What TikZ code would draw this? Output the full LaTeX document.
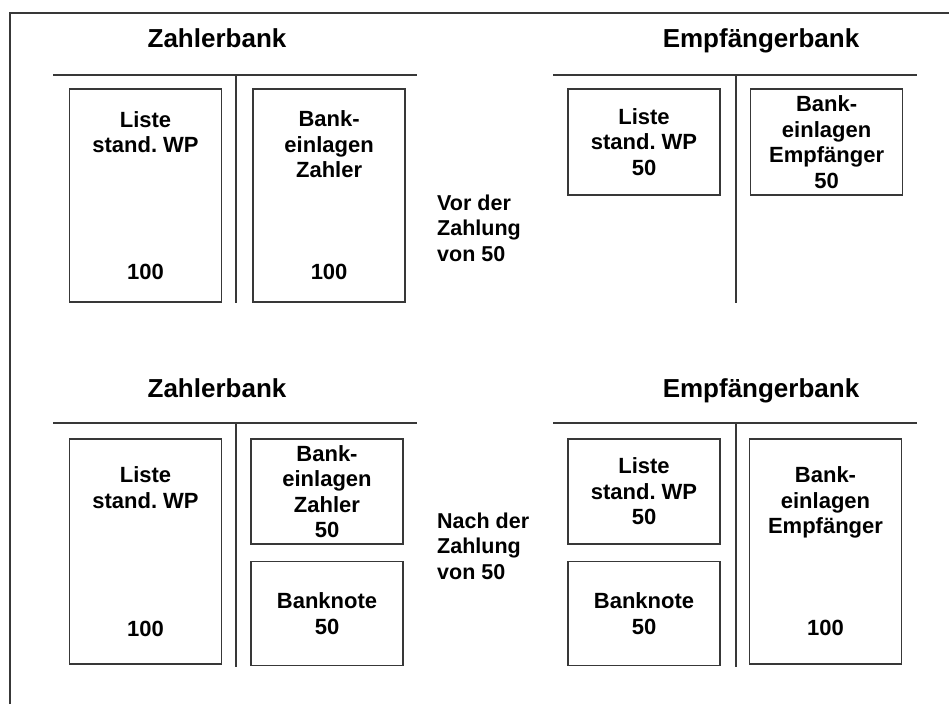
\documentclass[tikz,border=0pt]{standalone}
\usepackage{fontspec}
\setmainfont{Liberation Sans}
\usetikzlibrary{positioning}
\frenchspacing

\begin{document}
\begin{tikzpicture}[x=1pt, y=-1pt]
    \tikzstyle{konto} = [rectangle, draw=black!78, line width=1.6pt, inner sep=0pt, align=center, minimum width=152pt, font=\bfseries\fontsize{22}{25.5}\selectfont]
    \tikzstyle{bank} = [inner sep=0pt, anchor=base, font=\bfseries\fontsize{26}{30}\selectfont]
    \tikzstyle{zeit} = [inner sep=0pt, anchor=west, align=left, font=\bfseries\fontsize{21.5}{25.5}\selectfont]
    \tikzstyle{tline} = [draw=black!78, line width=1.6pt]

    \useasboundingbox (0,0) rectangle (949,704);
    \draw [tline] (10,704) -- (10,13) -- (949,13);

    % Vor der Zahlung
    \node (zbank1) [bank] at (217,47.5) {Zahlerbank};
    \node (ebank1) [bank] at (761,47.5) {Empfängerbank};
    \draw [tline] (53,75) -- (417,75);
    \draw [tline] (236,75) -- (236,303);
    \draw [tline] (553,75) -- (917,75);
    \draw [tline] (736,75) -- (736,303);

    \node (liste1) [konto, minimum height=213pt] at (145.5,195.5) {Liste\\stand. WP\\[101.5pt]100};
    \node (einlagen1) [konto, minimum height=213pt, right=30pt of liste1] {Bank-\\einlagen\\Zahler\\[76.5pt]100};
    \node (liste2) [konto, minimum height=106pt] at (644,142) {Liste\\stand. WP\\50};
    \node (einlagen2) [konto, minimum height=106pt, right=29pt of liste2] {Bank-\\einlagen\\Empfänger\\50};
    \node (vor) [zeit] at (437,228) {Vor der\\Zahlung\\von 50};

    % Nach der Zahlung
    \node (zbank2) [bank] at (217,397) {Zahlerbank};
    \node (ebank2) [bank] at (761,397) {Empfängerbank};
    \draw [tline] (53,423) -- (417,423);
    \draw [tline] (236,423) -- (236,667);
    \draw [tline] (553,423) -- (917,423);
    \draw [tline] (736,423) -- (736,667);

    \node (liste3) [konto, minimum height=225pt] at (145.5,551.5) {Liste\\stand. WP\\[102.5pt]100};
    \node (einlagen3) [konto, minimum height=105pt] at (327,491.5) {Bank-\\einlagen\\Zahler\\50};
    \node (note3) [konto, minimum height=104pt, below=16pt of einlagen3] {Banknote\\50};
    \node (liste4) [konto, minimum height=105pt] at (644,491.5) {Liste\\stand. WP\\50};
    \node (note4) [konto, minimum height=104pt, below=16pt of liste4] {Banknote\\50};
    \node (einlagen4) [konto, minimum height=225pt] at (825.5,551.5) {Bank-\\einlagen\\Empfänger\\[76.5pt]100};
    \node (nach) [zeit] at (437,546) {Nach der\\Zahlung\\von 50};
\end{tikzpicture}
\end{document}
